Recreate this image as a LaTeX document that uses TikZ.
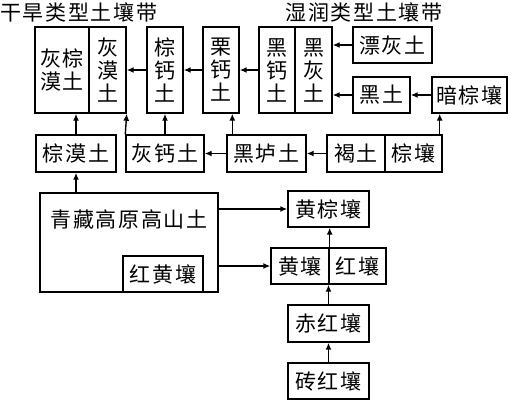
\documentclass[tikz,border=0pt]{standalone}
\usepackage{fontspec}
\setmainfont[LetterSpace=8]{Noto Sans CJK SC}
\usetikzlibrary{arrows.meta}
\begin{document}
\begin{tikzpicture}[x=1pt,y=-1pt,
  box/.style={draw, line width=1.4pt, inner sep=0pt, align=center, font=\fontsize{21}{23}\selectfont},
  lbl/.style={inner sep=0pt, font=\fontsize{21}{23}\selectfont},
  arr/.style={line width=1.4pt, -{Latex[length=7pt,width=6pt]}}]
\useasboundingbox (0,0) rectangle (512,400);
% titles
\node[lbl, anchor=west] (t1) at (0,12) {干旱类型土壤带};
\node[lbl] (t2) at (364,12) {湿润类型土壤带};
% top row
\node[box, minimum width=54pt, minimum height=86pt] (hzm) at (62,70) {灰棕\\漠土};
\node[box, minimum width=37pt, minimum height=86pt] (hm) at (107.5,70) {灰\\漠\\土};
\node[box, minimum width=36pt, minimum height=86pt] (zg) at (165,70) {棕\\钙\\土};
\node[box, minimum width=36pt, minimum height=86pt] (lg) at (221,70) {栗\\钙\\土};
\node[box, minimum width=36pt, minimum height=86pt] (hg) at (277,70) {黑\\钙\\土};
\node[box, minimum width=37pt, minimum height=86pt] (hh) at (313.5,70) {黑\\灰\\土};
\node[box, minimum width=79pt, minimum height=36pt] (ph) at (392.5,45) {漂灰土};
\node[box, minimum width=57pt, minimum height=36pt] (ht) at (381.5,95) {黑土};
\node[box, minimum width=75pt, minimum height=36pt] (az) at (469.5,95) {暗棕壤};
% middle row
\node[box, minimum width=80pt, minimum height=37pt] (zm) at (76,153.5) {棕漠土};
\node[box, minimum width=78pt, minimum height=37pt] (hgt) at (165,153.5) {灰钙土};
\node[box, minimum width=79pt, minimum height=37pt] (hl) at (266.5,153.5) {黑垆土};
\node[box, minimum width=58pt, minimum height=37pt] (het) at (356,153.5) {褐土};
\node[box, minimum width=57pt, minimum height=37pt] (zr) at (413.5,153.5) {棕壤};
% plateau
\node[box, minimum width=178pt, minimum height=99pt] (qz) at (129,242.5) {};
\node[lbl] (qzt) at (129,220) {青藏高原高山土};
\node[box, minimum width=80pt, minimum height=36pt] (hhr) at (163,274) {红黄壤};
% right column
\node[box, minimum width=81pt, minimum height=36pt] (hzr) at (328.5,209) {黄棕壤};
\node[box, minimum width=58pt, minimum height=36pt] (hr) at (300,266) {黄壤};
\node[box, minimum width=57pt, minimum height=36pt] (hgr) at (357.5,266) {红壤};
\node[box, minimum width=81pt, minimum height=37pt] (chr) at (328.5,323.5) {赤红壤};
\node[box, minimum width=81pt, minimum height=36pt] (zhr) at (328.5,381) {砖红壤};
% arrows top row
\draw[arr] (zg.west) -- (hm.east);
\draw[arr] (lg.west) -- (zg.east);
\draw[arr] (hg.west) -- (lg.east);
\draw[arr] (ph.west) -- (ph.west -| hh.east);
\draw[arr] (ht.west) -- (ht.west -| hh.east);
\draw[arr] (az.west) -- (ht.east);
% middle to top
\draw[arr] (zm.north) -- (zm.north |- hzm.south);
\draw[arr] (hgt.north west) -- (hm.south east);
\draw[arr] (hgt.north) -- (zg.south);
\draw[arr] ([xshift=6pt]hl.north west) -- ([xshift=6pt]hl.north west |- lg.south);
\draw[arr] ([xshift=-3pt]zr.north east) -- ([xshift=-3pt]zr.north east |- az.south);
% middle row leftward
\draw[arr] (hl.west) -- (hgt.east);
\draw[arr] (het.west) -- (hl.east);
% plateau
\draw[arr] (zm.south |- qz.north) -- (zm.south);
\draw[arr] (hzr.west -| qz.east) -- (hzr.west);
\draw[arr] (hr.west -| qz.east) -- (hr.west);
% right column
\draw[arr] (hr.north east) -- (hr.north east |- hzr.south);
\draw[arr] (chr.north) -- (chr.north |- hr.south);
\draw[arr] (zhr.north) -- (chr.south);
\end{tikzpicture}
\end{document}
